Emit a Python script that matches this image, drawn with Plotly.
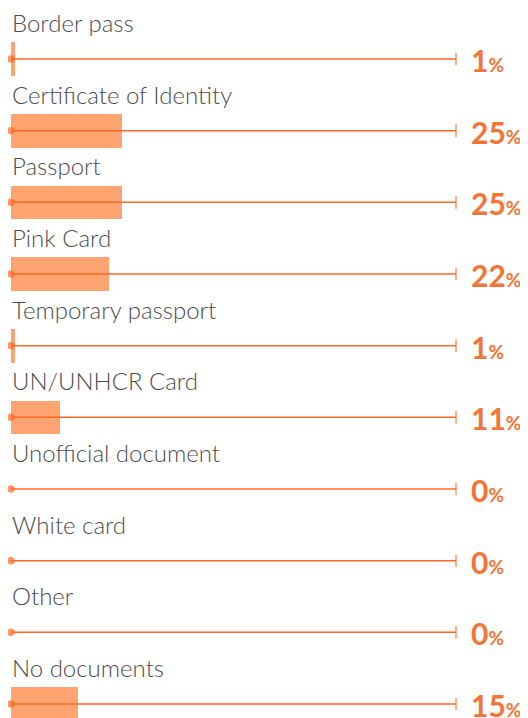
import plotly.graph_objects as go

# document types held, share of respondents (%)
categories = [
    "Border pass",
    "Certificate of Identity",
    "Passport",
    "Pink Card",
    "Temporary passport",
    "UN/UNHCR Card",
    "Unofficial document",
    "White card",
    "Other",
    "No documents",
]
values = [1, 25, 25, 22, 1, 11, 0, 0, 0, 15]

BAR = "#ffa470"
LINE = "#ff6824"
VALUE = "#f47436"
LABEL = "#4d4d4d"

rows = list(range(len(categories)))

fig = go.Figure()

# light bars showing the share
fig.add_trace(go.Bar(
    x=values,
    y=rows,
    base=0,
    orientation="h",
    width=0.47,
    marker=dict(color=BAR, line=dict(width=0)),
    hoverinfo="skip",
))

# 0-100 track line with a dot at the start and a tick at the end
for r in rows:
    fig.add_trace(go.Scatter(
        x=[0, 100],
        y=[r, r],
        mode="lines+markers",
        cliponaxis=False,
        line=dict(color=LINE, width=1.5),
        marker=dict(
            symbol=["circle", "line-ns"],
            size=[6, 9],
            color=LINE,
            line=dict(color=LINE, width=1.5),
        ),
        hoverinfo="skip",
    ))

for r, cat, v in zip(rows, categories, values):
    fig.add_annotation(
        x=0, y=r - 0.51, xref="x", yref="y",
        text=cat, showarrow=False,
        xanchor="left", yanchor="middle", xshift=-1,
        font=dict(family="Lato", size=24, color=LABEL, weight=300),
    )
    fig.add_annotation(
        x=1, y=r, xref="paper", yref="y",
        text=f"<b>{v}</b><span style='font-size:19px'><b>%</b></span>",
        showarrow=False,
        xanchor="left", yanchor="middle", xshift=13, yshift=-1,
        font=dict(family="Lato", size=30, color=VALUE),
    )

fig.update_layout(
    width=520,
    height=710,
    margin=dict(l=3, r=72, t=0, b=0),
    plot_bgcolor="white",
    paper_bgcolor="white",
    showlegend=False,
    bargap=0,
    xaxis=dict(range=[0, 100], visible=False, fixedrange=True),
    yaxis=dict(range=[9.195, -0.7116], visible=False, fixedrange=True),
)

fig.write_html("out.html")
